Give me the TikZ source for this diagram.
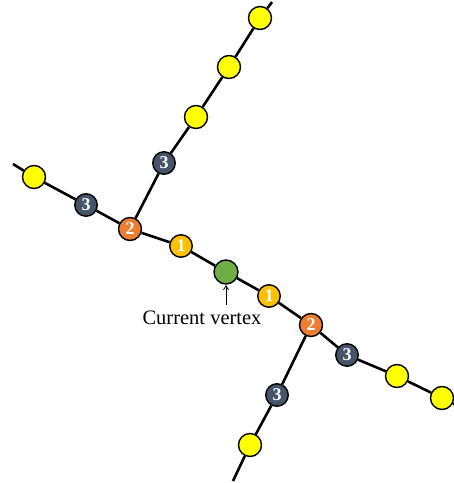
\documentclass[tikz,border=0pt]{standalone}
\usepackage{fontspec}
\setmainfont{Liberation Serif}
\usetikzlibrary{backgrounds,arrows.meta}
\definecolor{vyellow}{HTML}{FFFF00}
\definecolor{vamber}{HTML}{FFC000}
\definecolor{vorange}{HTML}{ED7D31}
\definecolor{vgreen}{HTML}{70AD47}
\definecolor{vslate}{HTML}{44546A}
\tikzset{
  vtx/.style={circle, draw=black, line width=1.4pt, minimum size=23pt, inner sep=0pt,
    text=white, font=\fontsize{18}{18}\selectfont\bfseries},
  plain/.style={vtx, fill=vyellow},
  lvl1/.style={vtx, fill=vamber, minimum size=22.5pt},
  lvl2/.style={vtx, fill=vorange},
  lvl3/.style={vtx, fill=vslate, minimum size=22.5pt},
  cur/.style={vtx, fill=vgreen, minimum size=24pt},
  edge/.style={line width=2.6pt, black},
}
\begin{document}
\begin{tikzpicture}[x=1pt, y=-1pt]
\useasboundingbox (0,0) rectangle (454,483);
% current vertex and its neighbourhood
\node[cur]   (g)  at (226,272) {};
\node[lvl1]  (l1) at (181,246) {1};
\node[lvl2]  (l2) at (130,229) {2};
\node[lvl3]  (l3) at (86,205)  {3};
\node[plain] (ly) at (34,177)  {};
\coordinate  (le) at (13,164);
% upper branch
\node[lvl3]  (u3) at (164,163) {3};
\node[plain] (u4) at (196,117) {};
\node[plain] (u5) at (229,67)  {};
\node[plain] (u6) at (260,18)  {};
\coordinate  (ue) at (272,2);
% right side
\node[lvl1]  (r1) at (269,296) {1};
\node[lvl2]  (r2) at (311,325) {2};
\node[lvl3]  (r3) at (347,355) {3};
\node[plain] (r4) at (397,376) {};
\node[plain] (r5) at (442,398) {};
\coordinate  (re) at (456,405);
% lower branch
\node[lvl3]  (d3) at (277,395) {3};
\node[plain] (d4) at (250,445) {};
\coordinate  (de) at (233,481);
\begin{scope}[on background layer]
  \draw[edge] (le) -- (ly) -- (l3) -- (l2) -- (l1) -- (g) -- (r1) -- (r2) -- (r3) -- (r4) -- (r5) -- (re);
  \draw[edge] (l2) -- (u3) -- (u4) -- (u5) -- (u6) -- (ue);
  \draw[edge] (r2) -- (d3) -- (d4) -- (de);
\end{scope}
% label
\node[font=\fontsize{20.5}{20.5}\selectfont, anchor=base] (lab) at (202,324) {Current vertex};
\coordinate (tip) at (226,285);
\draw[-{Straight Barb[length=4pt,width=5pt]}, line width=0.8pt] (226,305) -- (tip);
\end{tikzpicture}
\end{document}
